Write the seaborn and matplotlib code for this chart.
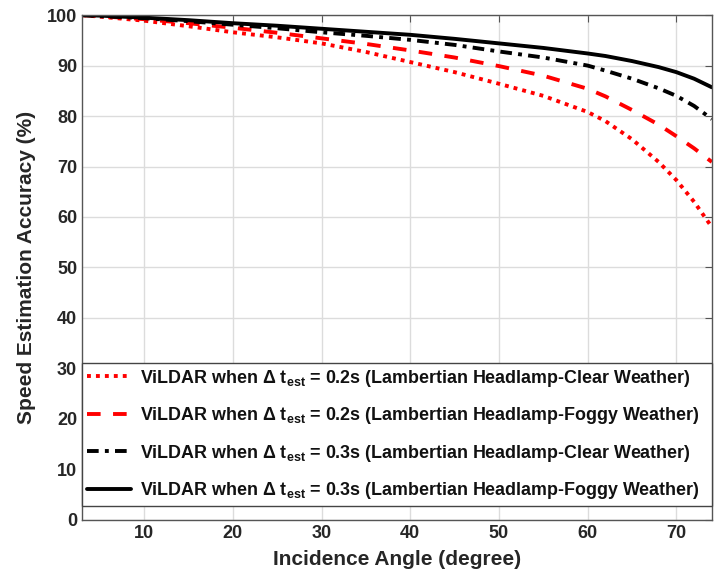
import matplotlib
matplotlib.use("Agg")
import matplotlib.pyplot as plt
import seaborn as sns
import pandas as pd

angles = [3, 5, 10, 15, 20, 25, 30, 35, 40, 45, 50, 55, 60, 62, 65, 68, 70, 72, 74]
acc_02_clear = [100, 99.7, 98.9, 97.8, 96.6, 95.6, 94.4, 92.7, 90.7, 88.7, 86.4, 84.0, 80.8, 79.0, 75.4, 70.9, 67.3, 63.0, 58.0]
acc_02_foggy = [100, 99.8, 99.2, 98.4, 97.5, 96.5, 95.4, 94.3, 93.0, 91.6, 89.9, 88.0, 85.4, 83.9, 81.2, 78.3, 76.0, 73.6, 70.9]
acc_03_clear = [100, 99.8, 99.4, 98.8, 98.1, 97.4, 96.6, 95.9, 95.1, 94.1, 92.8, 91.6, 90.0, 89.0, 87.4, 85.5, 84.0, 82.0, 79.4]
acc_03_foggy = [100, 99.9, 99.5, 99.0, 98.4, 97.9, 97.3, 96.7, 96.1, 95.3, 94.4, 93.5, 92.4, 91.9, 90.9, 89.7, 88.7, 87.4, 85.7]

labels = [
    r"ViLDAR when $\Delta$ t$_{\mathbf{est}}$ = 0.2s (Lambertian Headlamp-Clear Weather)",
    r"ViLDAR when $\Delta$ t$_{\mathbf{est}}$ = 0.2s (Lambertian Headlamp-Foggy Weather)",
    r"ViLDAR when $\Delta$ t$_{\mathbf{est}}$ = 0.3s (Lambertian Headlamp-Clear Weather)",
    r"ViLDAR when $\Delta$ t$_{\mathbf{est}}$ = 0.3s (Lambertian Headlamp-Foggy Weather)",
]
x_ticks = [10, 20, 30, 40, 50, 60, 70]
y_ticks = [0, 10, 20, 30, 40, 50, 60, 70, 80, 90, 100]

sns.set_style("white")
plt.rcParams["font.family"] = ["Liberation Sans", "DejaVu Sans"]
plt.rcParams["mathtext.fontset"] = "custom"
plt.rcParams["mathtext.rm"] = "Liberation Sans:bold"
plt.rcParams["mathtext.bf"] = "Liberation Sans:bold"
plt.rcParams["mathtext.it"] = "Liberation Sans:bold"

fig = plt.figure(figsize=(7.14, 5.82), dpi=100)
ax = fig.add_axes([0.115, 0.107, 0.882, 0.867])

series = [acc_02_clear, acc_02_foggy, acc_03_clear, acc_03_foggy]
colors = ["#ff0000", "#ff0000", "#000000", "#000000"]
styles = [(0, (1, 1.3)), (0, (3.5, 3.2)), (0, (3, 1.6, 1, 1.6)), "-"]

for vals, lab, col, ls in zip(series, labels, colors, styles):
    df = pd.DataFrame({"angle": angles, "acc": vals})
    sns.lineplot(data=df, x="angle", y="acc", ax=ax, color=col, linestyle=ls,
                 linewidth=2.8, label=lab)

ax.set_xlim(3, 74)
ax.set_ylim(0, 100)
ax.set_xticks(x_ticks)
ax.set_yticks(y_ticks)
ax.grid(True, color="#dcdcdc", linewidth=1)
ax.tick_params(direction="in", top=True, right=True, length=5, color="#555555",
               labelsize=13, labelcolor="#262626")
for lab in ax.get_xticklabels() + ax.get_yticklabels():
    lab.set_fontweight("bold")
for sp in ax.spines.values():
    sp.set_color("#555555")
    sp.set_linewidth(1)

ax.set_xlabel("Incidence Angle (degree)", fontsize=15, fontweight="bold", color="#262626", labelpad=6)
ax.set_ylabel("Speed Estimation Accuracy (%)", fontsize=15, fontweight="bold", color="#262626", labelpad=8)

leg = ax.legend(loc="lower left", bbox_to_anchor=(0.0, 0.028, 1.0, 0.25), mode="expand",
                prop={"weight": "bold", "size": 12.9},
                frameon=True, fancybox=False, edgecolor="#444444", framealpha=1,
                handlelength=2.5, handletextpad=0.5, labelspacing=0.92, borderpad=0.25,
                borderaxespad=0.0)
leg.get_frame().set_linewidth(1)
for t in leg.get_texts():
    t.set_color("#111111")

fig.savefig("out.png", dpi=100)
